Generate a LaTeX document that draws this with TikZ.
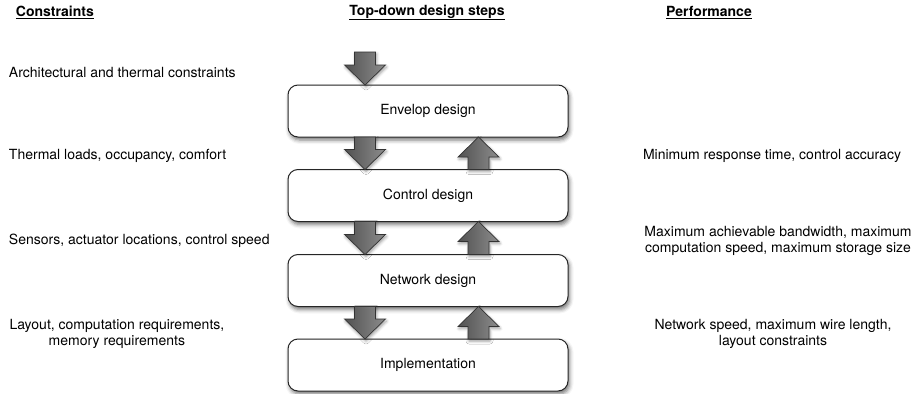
\documentclass[tikz,border=0pt]{standalone}
\usepackage{fontspec}
\setmainfont{TeX Gyre Heros}
\usetikzlibrary{calc,shadows.blur}
\begin{document}
\begin{tikzpicture}[x=1pt,y=-1pt,
  every node/.style={font=\fontsize{14}{16}\selectfont, inner sep=0pt, outer sep=0pt},
  header/.style={font=\fontsize{14}{16}\selectfont\bfseries},
  note/.style={align=center},
  stage/.style={draw=black!85, line width=1pt, rounded corners=10pt, fill=white,
    minimum width=280pt, minimum height=52pt,
    blur shadow={shadow xshift=1.5pt, shadow yshift=-3pt, shadow blur radius=4pt, shadow opacity=55}},
  flow/.style={draw=black!80, line width=0.7pt, left color=black!68, middle color=black!28, right color=black!45,
    blur shadow={shadow xshift=1pt, shadow yshift=-2pt, shadow blur radius=3pt, shadow opacity=40}}]

\useasboundingbox (0,0) rectangle (914,394);

% downward arrow: #1 x position, #2 start point, #3 tip point
\newcommand\flowdown[3]{%
  \draw[flow] let \p1=(#2), \p2=(#3) in
    ({#1pt-10.5pt},\y1) -- ({#1pt+10.5pt},\y1) -- ({#1pt+10.5pt},{\y2+20pt}) --
    ({#1pt+20.5pt},{\y2+20pt}) -- (#1pt,\y2) -- ({#1pt-20.5pt},{\y2+20pt}) --
    ({#1pt-10.5pt},{\y2+20pt}) -- cycle;}
% upward arrow: #1 x position, #2 tip point, #3 base point
\newcommand\flowup[3]{%
  \draw[flow] let \p1=(#2), \p2=(#3) in
    (#1pt,\y1) -- ({#1pt+20.5pt},{\y1-20pt}) -- ({#1pt+10.5pt},{\y1-20pt}) --
    ({#1pt+10.5pt},\y2) -- ({#1pt-10.5pt},\y2) -- ({#1pt-10.5pt},{\y1-20pt}) --
    ({#1pt-20.5pt},{\y1-20pt}) -- cycle;}

% column headers
\node[header, anchor=west] (hc) at (16,12.5) {\underline{Constraints}};
\node[header] (hs) at (427,12.5) {\underline{Top-down design steps}};
\node[header] (hp) at (709,12.5) {\underline{Performance}};

% design steps
\node[stage] (env) at (428,111) {Envelop design};
\node[stage] (ctl) at (428,195.5) {Control design};
\node[stage] (net) at (428,280.5) {Network design};
\node[stage] (imp) at (428,365) {Implementation};

% constraints
\node[anchor=west] (c1) at (9,72) {Architectural and thermal constraints};
\node[anchor=west] (c2) at (9,156) {Thermal loads, occupancy, comfort};
\node[anchor=west] (c3) at (9,241) {Sensors, actuator locations, control speed};
\node[note, anchor=west] (c4) at (9.5,334) {Layout, computation requirements,\\memory requirements};

% performance
\node[note] (p1) at (772,156) {Minimum response time, control accuracy};
\node[note] (p2) at (778,241) {Maximum achievable bandwidth, maximum\\computation speed, maximum storage size};
\node[note] (p3) at (773,334) {Network speed, maximum wire length,\\layout constraints};

% flow arrows
\coordinate (in) at (365,52);
\flowdown{365}{in}{env.north}
\flowdown{365}{env.south}{ctl.north}
\flowdown{365}{ctl.south}{net.north}
\flowdown{365}{net.south}{imp.north}
\flowup{478.5}{env.south}{ctl.north}
\flowup{478.5}{ctl.south}{net.north}
\flowup{478.5}{net.south}{imp.north}

\end{tikzpicture}
\end{document}
